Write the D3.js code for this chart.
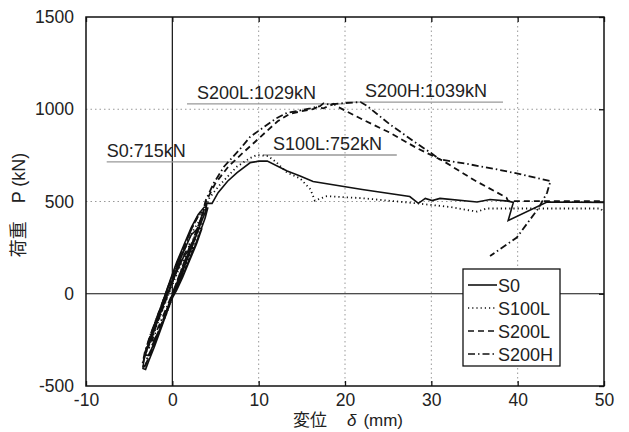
<!DOCTYPE html>
<html>
<head>
<meta charset="utf-8">
<script src="https://cdn.jsdelivr.net/npm/d3@7"></script>
<style>
  body { margin: 0; background: #fff; }
  text { font-family: "Liberation Sans", Arial, sans-serif; fill: #222; }
</style>
</head>
<body>
<script>
// 軸の目盛り
var xTicks = [-10, 0, 10, 20, 30, 40, 50];
var yTicks = [-500, 0, 500, 1000, 1500];

// 荷重-変位 曲線 [変位 mm, 荷重 kN]
var s0 = [[0,0],[0.9,60],[1.4,120],[2.0,190],[2.5,250],[2.1,245],[1.3,200],[0.5,120],[-0.1,50],[-0.6,0],[-1.2,-80],[-1.9,-170],[-2.5,-250],[-2.2,-255],[-1.5,-200],[-0.8,-120],[-0.2,-40],[0.5,20],
  [1.2,90],[2.0,180],[2.8,270],[3.4,350],[3.0,355],[2.2,320],[1.4,240],[0.6,150],[-0.1,60],[-0.7,-20],[-1.5,-120],[-2.3,-220],[-2.9,-300],[-3.1,-330],[-2.8,-335],[-2.1,-270],[-1.3,-180],[-0.6,-90],[0.1,0],[0.6,40],
  [1.5,130],[2.3,220],[3.1,320],[3.8,410],[4.1,465],[3.7,470],[3.0,430],[2.2,360],[1.3,260],[0.5,170],[-0.2,80],[-0.8,0],[-1.6,-110],[-2.3,-200],[-2.9,-290],[-3.3,-360],[-3.4,-405],[-3.1,-410],[-2.7,-360],[-2.1,-290],[-1.4,-200],[-0.7,-110],[0.0,-20],[0.7,60],[1.5,160],[2.4,270],[3.2,370],[3.8,440],
  [4.0,490],[4.6,490],[5.3,548],[6.4,610],[7.5,656],[9.0,710],[10,719],[11,719],[13.3,665],[14.8,638],[16.3,608],[22,565],[27.5,527],[28.5,490],[29.3,517],[30.1,505],[31,517],[35.3,497],[36.8,511],[38.9,502],[39.5,495],[38.9,397],[43.4,497],[50,495]];

var s100L = [[0,0],[0.8,70],[1.5,150],[2.2,230],[1.8,225],[1.0,160],[0.2,70],[-0.5,-10],[-1.3,-110],[-2.1,-210],[-2.6,-270],[-2.3,-275],[-1.5,-200],[-0.7,-110],[0.1,-10],
  [0.8,60],[1.7,170],[2.6,280],[3.4,380],[3.0,385],[2.1,320],[1.2,220],[0.3,110],[-0.4,20],[-1.1,-70],[-1.9,-170],[-2.7,-270],[-3.2,-340],[-2.9,-350],[-2.2,-280],[-1.3,-170],[-0.5,-70],[0.3,30],
  [1.2,140],[2.1,250],[3.0,360],[3.8,460],[4.3,520],[5.5,590],[7.5,690],[9,735],[9.8,752],[11.1,746],[12,715],[13.3,656],[14.8,625],[16,566],[16.5,505],[17.9,529],[22,518],[28.3,490],[32.2,470],[35.3,445],[36.4,462],[39.5,462],[49.6,462],[50,440]];

var s200L = [[0,0],[0.9,90],[1.7,190],[2.3,260],[1.9,255],[1.1,190],[0.3,100],[-0.4,10],[-1.2,-90],[-2.0,-190],[-2.8,-290],[-2.5,-295],[-1.7,-220],[-0.9,-130],[-0.1,-30],
  [0.7,70],[1.6,180],[2.5,290],[3.3,400],[3.6,440],[3.2,440],[2.4,370],[1.5,270],[0.6,170],[-0.2,70],[-0.9,-20],[-1.7,-120],[-2.5,-220],[-3.1,-310],[-3.4,-380],[-3.1,-385],[-2.4,-310],[-1.6,-210],[-0.8,-110],[0.0,-10],
  [0.9,100],[1.8,210],[2.7,320],[3.5,430],[3.9,500],[5,600],[6.5,690],[8.2,765],[9.5,820],[10.9,880],[12.2,935],[13.6,975],[15,990],[16.3,1000],[16.8,1012],[17.5,1005],[18.7,1029],[19,1017],[22,945],[25.2,873],[28.3,790],[31.4,719],[35,615],[38.7,521],[38.9,502],[44,502],[50,502]];

var s200H = [[0,0],[0.8,100],[1.6,200],[2.1,270],[1.7,265],[0.9,200],[0.1,110],[-0.6,20],[-1.4,-80],[-2.2,-180],[-2.7,-250],[-2.4,-255],[-1.6,-180],[-0.8,-90],[0.0,0],
  [0.9,110],[1.8,220],[2.7,330],[3.5,430],[3.1,430],[2.3,360],[1.4,260],[0.5,160],[-0.3,60],[-1.0,-30],[-1.8,-130],[-2.6,-230],[-3.2,-320],[-3.5,-390],[-3.2,-395],[-2.5,-320],[-1.7,-220],[-0.9,-120],[-0.1,-20],
  [0.8,90],[1.7,200],[2.6,310],[3.4,420],[3.9,510],[4.8,600],[6,690],[7.8,782],[9,850],[10.5,900],[12,950],[13.3,981],[14.4,990],[16,1005],[17.1,1017],[17.5,1032],[18.2,1025],[19.5,1032],[21.8,1039],[22.5,1020],[25.2,918],[28,825],[30.2,755],[31,728],[34,705],[37.6,674],[39.9,652],[43.8,611],[43.4,547],[42.4,463],[39.9,305],[36.8,204]];

var seriesNames = ["S0", "S100L", "S200L", "S200H"];
var seriesData = [s0, s100L, s200L, s200H];
var seriesDash = ["none", "1.2,3", "6,4", "7,3,1.5,3"];

// 最大荷重の注記
var peakLabels = ["S0:715kN", "S100L:752kN", "S200L:1029kN", "S200H:1039kN"];
var peakValues = [715, 752, 1029, 1039];
var peakFrom = [-7.6, 10.5, 1.7, 20.0];
var peakTo = [9.8, 26.0, 20.0, 38.3];
var textShift = [0, 10, 10, 20];

var W = 629, H = 432;
var mL = 86, mR = 604, mT = 17, mB = 386;

var svg = d3.select("body").append("svg")
  .attr("width", W).attr("height", H);

var x = d3.scaleLinear().domain([-10, 50]).range([mL, mR]);
var y = d3.scaleLinear().domain([-500, 1500]).range([mB, mT]);

// グリッド (点線)
svg.selectAll("line.gx")
  .data(xTicks.filter(function(d) { return d > 0 && d < 50; }))
  .enter().append("line")
  .attr("x1", function(d) { return x(d); }).attr("x2", function(d) { return x(d); })
  .attr("y1", mT).attr("y2", mB)
  .attr("stroke", "#999").attr("stroke-width", 1).attr("stroke-dasharray", "1.5,3");
svg.selectAll("line.gy")
  .data(yTicks.filter(function(d) { return d > 0 && d < 1500; }))
  .enter().append("line")
  .attr("y1", function(d) { return y(d); }).attr("y2", function(d) { return y(d); })
  .attr("x1", mL).attr("x2", mR)
  .attr("stroke", "#999").attr("stroke-width", 1).attr("stroke-dasharray", "1.5,3");

// ゼロ線
svg.append("line").attr("x1", x(0)).attr("x2", x(0)).attr("y1", mT).attr("y2", mB)
  .attr("stroke", "#111").attr("stroke-width", 1.2);
svg.append("line").attr("x1", mL).attr("x2", mR).attr("y1", y(0)).attr("y2", y(0))
  .attr("stroke", "#111").attr("stroke-width", 1.2);

// 注記の線と文字
peakLabels.forEach(function(lab, i) {
  svg.append("line")
    .attr("x1", x(peakFrom[i])).attr("x2", x(peakTo[i]))
    .attr("y1", y(peakValues[i])).attr("y2", y(peakValues[i]))
    .attr("stroke", "#999").attr("stroke-width", 1.3);
  svg.append("text")
    .attr("x", x(peakFrom[i]) + textShift[i])
    .attr("y", y(peakValues[i]) - 5)
    .attr("font-size", 18)
    .text(lab);
});

// 曲線
var line = d3.line()
  .x(function(d) { return x(d[0]); })
  .y(function(d) { return y(d[1]); });

svg.selectAll("path.curve")
  .data(seriesData)
  .enter().append("path")
  .attr("d", line)
  .attr("fill", "none")
  .attr("stroke", "#111")
  .attr("stroke-width", function(d, i) { return i == 0 ? 1.6 : 1.8; })
  .attr("stroke-dasharray", function(d, i) { return seriesDash[i]; });

// 枠と目盛り
svg.append("rect").attr("x", mL).attr("y", mT)
  .attr("width", mR - mL).attr("height", mB - mT)
  .attr("fill", "none").attr("stroke", "#111").attr("stroke-width", 1.5);

var xAxis = d3.axisBottom(x).tickValues(xTicks).tickSize(-5).tickPadding(8)
  .tickFormat(function(d) { return d; });
var gx = svg.append("g").attr("transform", "translate(0," + mB + ")").call(xAxis);
var gxTop = svg.append("g").attr("transform", "translate(0," + mT + ")")
  .call(d3.axisTop(x).tickValues(xTicks).tickSize(-5).tickFormat(""));
var yAxis = d3.axisLeft(y).tickValues(yTicks).tickSize(0).tickPadding(12)
  .tickFormat(function(d) { return d; });
var gy = svg.append("g").attr("transform", "translate(" + mL + ",0)").call(yAxis);
var gyR = svg.append("g").attr("transform", "translate(" + mR + ",0)")
  .call(d3.axisRight(y).tickValues(yTicks).tickSize(-5).tickFormat(""));

[gx, gxTop, gy, gyR].forEach(function(g) {
  g.select(".domain").remove();
  g.selectAll(".tick line").attr("stroke", "#111").attr("stroke-width", 1.3);
  g.selectAll("text").attr("font-size", 17.5).attr("fill", "#222")
    .style("font-family", "'Liberation Sans', Arial, sans-serif");
});

// 軸タイトル
svg.append("text")
  .attr("transform", "translate(25,205) rotate(-90)")
  .attr("text-anchor", "middle")
  .attr("font-size", 18)
  .html("<tspan font-family='Noto Sans CJK JP'>荷重</tspan><tspan dx='18'>P (kN)</tspan>");
svg.append("text")
  .attr("x", 348).attr("y", 426)
  .attr("text-anchor", "middle")
  .attr("font-size", 17)
  .html("<tspan font-family='Noto Sans CJK JP'>変位</tspan><tspan dx='20' font-style='italic'>δ</tspan><tspan dx='7'>(mm)</tspan>");

// 凡例
var lg = svg.append("g");
lg.append("rect").attr("x", 463).attr("y", 269).attr("width", 97).attr("height", 97)
  .attr("fill", "#fff").attr("stroke", "#111").attr("stroke-width", 1.3);
seriesNames.forEach(function(name, i) {
  var yy = 285 + i * 23;
  lg.append("line").attr("x1", 468).attr("x2", 497).attr("y1", yy).attr("y2", yy)
    .attr("stroke", "#111").attr("stroke-width", 1.6)
    .attr("stroke-dasharray", seriesDash[i]);
  lg.append("text").attr("x", 498).attr("y", yy + 6.5).attr("font-size", 18).text(name);
});
</script>
</body>
</html>
